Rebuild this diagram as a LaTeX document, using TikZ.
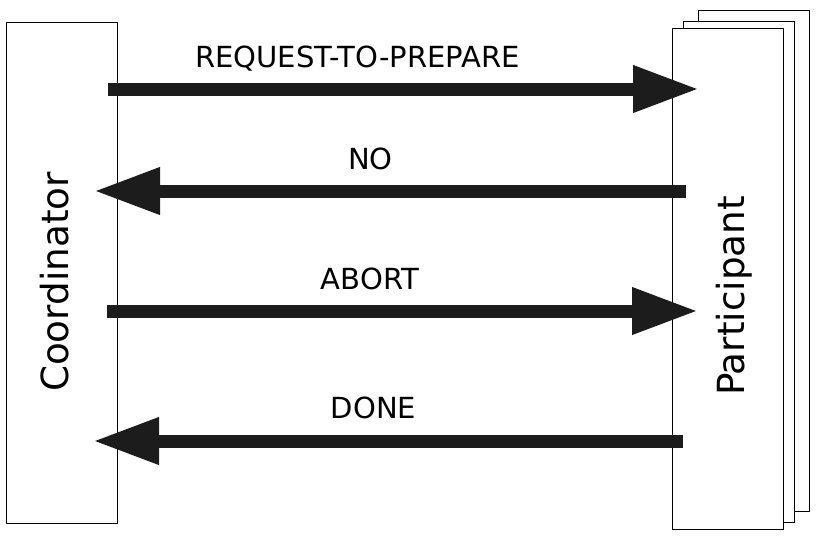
\documentclass[tikz,border=0pt]{standalone}
\usepackage{fontspec}
\setmainfont{DejaVu Sans}
\usetikzlibrary{arrows.meta}
\definecolor{msgfill}{HTML}{1C1C1C}
\begin{document}
\begin{tikzpicture}[x=0.75pt, y=-0.75pt, line width=0.75pt,
  party/.style={draw, fill=white, minimum width=83.25pt, minimum height=375.75pt, inner sep=0pt},
  msg/.style={draw=msgfill, line width=9.75pt, -{Triangle[length=49.5pt, width=33pt]}},
  msglabel/.style={font=\fontsize{21.8}{26}\selectfont, anchor=base, inner sep=0pt},
  partylabel/.style={font=\fontsize{28}{33}\selectfont, rotate=90, anchor=base, inner sep=0pt}]
	\useasboundingbox (0,0) rectangle (820,540);
	\node[party] (coord) at (62,273) {};
	\node[party] (part-back) at (753.8,260.5) {};
	\node[party] (part-mid) at (738.8,271.5) {};
	\node[party] (part) at (727.8,279.3) {};
	\node[partylabel] (coord-name) at (68,282) {Coordinator};
	\node[partylabel] (part-name) at (744,296) {Participant};
	%%%%%%%%%%%%%
	\coordinate (req-from) at (108,89);
	\coordinate (req-to) at (699,89);
	\coordinate (no-from) at (686,191);
	\coordinate (no-to) at (94,191);
	\coordinate (abort-from) at (107,311);
	\coordinate (abort-to) at (698,311);
	\coordinate (done-from) at (683,441);
	\coordinate (done-to) at (93,441);
	\draw[msg] (req-from) -- (req-to);
	\draw[msg] (no-from) -- (no-to);
	\draw[msg] (abort-from) -- (abort-to);
	\draw[msg] (done-from) -- (done-to);
	\node[msglabel] (req) at (357.5,67) {REQUEST-TO-PREPARE};
	\node[msglabel] (no) at (370.5,169) {NO};
	\node[msglabel] (abort) at (370,289) {ABORT};
	\node[msglabel] (done) at (373.5,418) {DONE};
\end{tikzpicture}
\end{document}
